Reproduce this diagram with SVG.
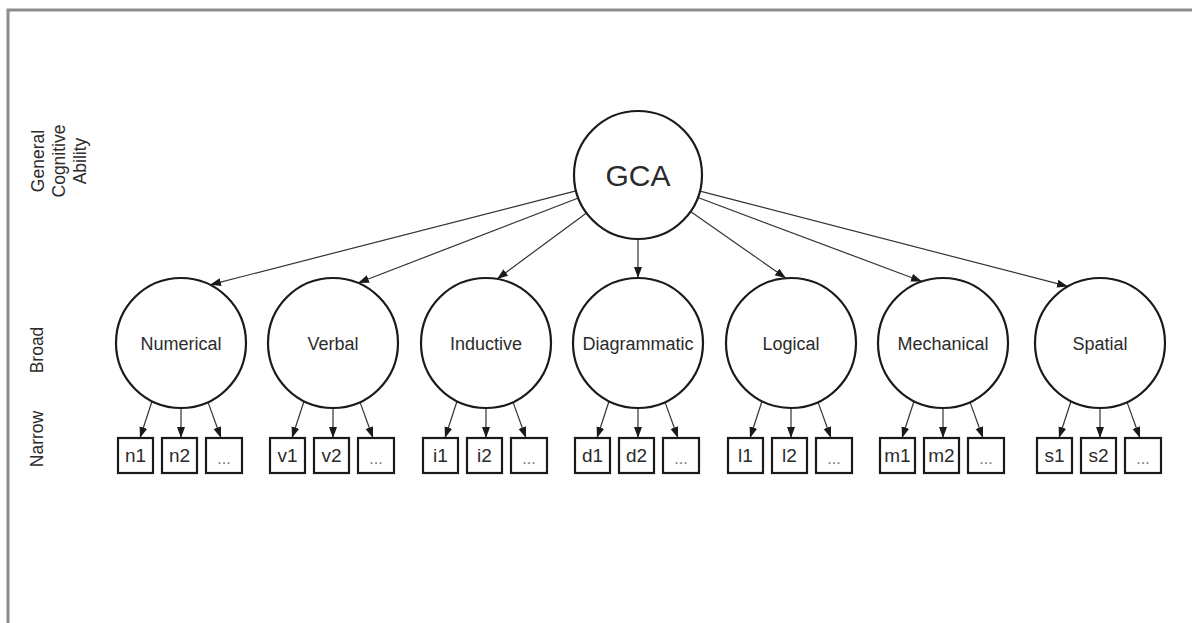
<svg xmlns="http://www.w3.org/2000/svg" width="1192" height="623" viewBox="0 0 1192 623">
<style>
.frame{fill:none;stroke:#8c8c8c;stroke-width:3}
.circ{fill:#fff;stroke:#1a1a1a;stroke-width:2.2}
.box{fill:#fff;stroke:#1a1a1a;stroke-width:2.2}
.edge{stroke:#333;stroke-width:1.2;fill:none;marker-end:url(#ah)}
text{font-family:"Liberation Sans",Arial,sans-serif;fill:#2b2b2b;text-anchor:middle}
.big{font-size:30px}
.mid{font-size:18px}
.sm{font-size:19px}
.dots{font-size:16px;fill:#777}
.side{font-size:17.5px}
</style>
<defs>
<marker id="ah" markerUnits="userSpaceOnUse" markerWidth="12" markerHeight="10" refX="11" refY="4" orient="auto">
<path d="M0,0 L11,4 L0,8 Z" fill="#1a1a1a"/>
</marker>
</defs>
<rect class="frame" x="8" y="10" width="1192" height="622"/>
<g id="side-labels">
<text class="side" transform="translate(44,161) rotate(-90)">General</text>
<text class="side" transform="translate(65,161) rotate(-90)">Cognitive</text>
<text class="side" transform="translate(86,161) rotate(-90)">Ability</text>
<text class="side" transform="translate(43,350) rotate(-90)">Broad</text>
<text class="side" transform="translate(43,439) rotate(-90)">Narrow</text>
</g>
<g id="connectors">
<line class="edge" x1="576" y1="190.9" x2="210" y2="284.8"/>
<line class="edge" x1="578.3" y1="198" x2="358" y2="283"/>
<line class="edge" x1="586.5" y1="213" x2="497" y2="279"/>
<line class="edge" x1="638" y1="239" x2="638" y2="278"/>
<line class="edge" x1="690.5" y1="211.6" x2="786" y2="278.2"/>
<line class="edge" x1="697.9" y1="197.5" x2="922" y2="281.5"/>
<line class="edge" x1="700" y1="191.1" x2="1068" y2="286.4"/>
<line class="edge" x1="152" y1="401.2" x2="140" y2="438"/>
<line class="edge" x1="181" y1="408" x2="181" y2="438"/>
<line class="edge" x1="208" y1="402.1" x2="221" y2="438"/>
<line class="edge" x1="304" y1="401.2" x2="292" y2="438"/>
<line class="edge" x1="333" y1="408" x2="333" y2="438"/>
<line class="edge" x1="360" y1="402.1" x2="373" y2="438"/>
<line class="edge" x1="457" y1="401.2" x2="445" y2="438"/>
<line class="edge" x1="486" y1="408" x2="486" y2="438"/>
<line class="edge" x1="513" y1="402.1" x2="526" y2="438"/>
<line class="edge" x1="609" y1="401.2" x2="597" y2="438"/>
<line class="edge" x1="638" y1="408" x2="638" y2="438"/>
<line class="edge" x1="665" y1="402.1" x2="678" y2="438"/>
<line class="edge" x1="762" y1="401.2" x2="750" y2="438"/>
<line class="edge" x1="791" y1="408" x2="791" y2="438"/>
<line class="edge" x1="818" y1="402.1" x2="831" y2="438"/>
<line class="edge" x1="914" y1="401.2" x2="902" y2="438"/>
<line class="edge" x1="943" y1="408" x2="943" y2="438"/>
<line class="edge" x1="970" y1="402.1" x2="983" y2="438"/>
<line class="edge" x1="1071" y1="401.2" x2="1059" y2="438"/>
<line class="edge" x1="1100" y1="408" x2="1100" y2="438"/>
<line class="edge" x1="1127" y1="402.1" x2="1140" y2="438"/>
</g>
<g id="GCA"><circle class="circ" cx="638" cy="175" r="64"/><text class="big" x="638" y="186">GCA</text></g>
<g id="Numerical"><circle class="circ" cx="181" cy="343" r="65"/><text class="mid" x="181" y="350">Numerical</text></g>
<g id="Verbal"><circle class="circ" cx="333" cy="343" r="65"/><text class="mid" x="333" y="350">Verbal</text></g>
<g id="Inductive"><circle class="circ" cx="486" cy="343" r="65"/><text class="mid" x="486" y="350">Inductive</text></g>
<g id="Diagrammatic"><circle class="circ" cx="638" cy="343" r="65"/><text class="mid" x="638" y="350">Diagrammatic</text></g>
<g id="Logical"><circle class="circ" cx="791" cy="343" r="65"/><text class="mid" x="791" y="350">Logical</text></g>
<g id="Mechanical"><circle class="circ" cx="943" cy="343" r="65"/><text class="mid" x="943" y="350">Mechanical</text></g>
<g id="Spatial"><circle class="circ" cx="1100" cy="343" r="65"/><text class="mid" x="1100" y="350">Spatial</text></g>
<g id="n1"><rect class="box" x="118" y="438" width="35" height="35"/><text class="sm" x="135.5" y="462">n1</text></g>
<g id="n2"><rect class="box" x="162" y="438" width="35" height="35"/><text class="sm" x="179.5" y="462">n2</text></g>
<g id="n3"><rect class="box" x="206" y="438" width="36" height="35"/><text class="dots" x="224" y="464">...</text></g>
<g id="v1"><rect class="box" x="270" y="438" width="35" height="35"/><text class="sm" x="287.5" y="462">v1</text></g>
<g id="v2"><rect class="box" x="314" y="438" width="35" height="35"/><text class="sm" x="331.5" y="462">v2</text></g>
<g id="v3"><rect class="box" x="358" y="438" width="36" height="35"/><text class="dots" x="376" y="464">...</text></g>
<g id="i1"><rect class="box" x="423" y="438" width="35" height="35"/><text class="sm" x="440.5" y="462">i1</text></g>
<g id="i2"><rect class="box" x="467" y="438" width="35" height="35"/><text class="sm" x="484.5" y="462">i2</text></g>
<g id="i3"><rect class="box" x="511" y="438" width="36" height="35"/><text class="dots" x="529" y="464">...</text></g>
<g id="d1"><rect class="box" x="575" y="438" width="35" height="35"/><text class="sm" x="592.5" y="462">d1</text></g>
<g id="d2"><rect class="box" x="619" y="438" width="35" height="35"/><text class="sm" x="636.5" y="462">d2</text></g>
<g id="d3"><rect class="box" x="663" y="438" width="36" height="35"/><text class="dots" x="681" y="464">...</text></g>
<g id="l1"><rect class="box" x="728" y="438" width="35" height="35"/><text class="sm" x="745.5" y="462">l1</text></g>
<g id="l2"><rect class="box" x="772" y="438" width="35" height="35"/><text class="sm" x="789.5" y="462">l2</text></g>
<g id="l3"><rect class="box" x="816" y="438" width="36" height="35"/><text class="dots" x="834" y="464">...</text></g>
<g id="m1"><rect class="box" x="880" y="438" width="35" height="35"/><text class="sm" x="897.5" y="462">m1</text></g>
<g id="m2"><rect class="box" x="924" y="438" width="35" height="35"/><text class="sm" x="941.5" y="462">m2</text></g>
<g id="m3"><rect class="box" x="968" y="438" width="36" height="35"/><text class="dots" x="986" y="464">...</text></g>
<g id="s1"><rect class="box" x="1037" y="438" width="35" height="35"/><text class="sm" x="1054.5" y="462">s1</text></g>
<g id="s2"><rect class="box" x="1081" y="438" width="35" height="35"/><text class="sm" x="1098.5" y="462">s2</text></g>
<g id="s3"><rect class="box" x="1125" y="438" width="36" height="35"/><text class="dots" x="1143" y="464">...</text></g>
</svg>
